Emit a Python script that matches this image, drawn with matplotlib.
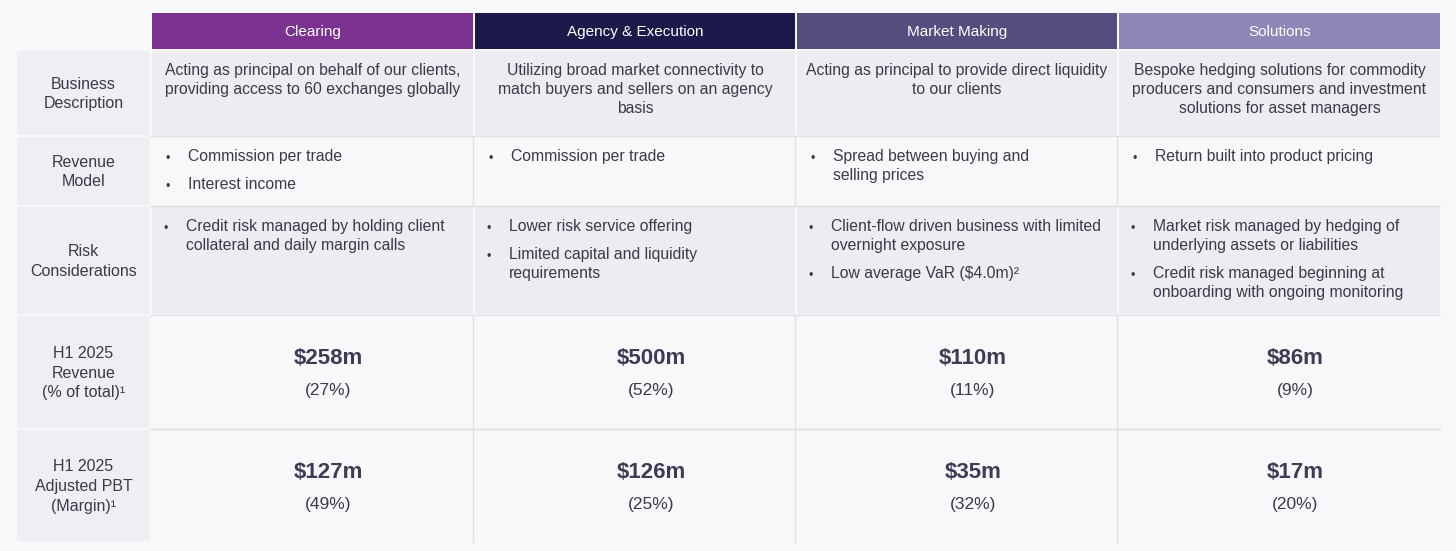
import matplotlib.pyplot as plt
from matplotlib.patches import Rectangle

plt.rcParams['font.family'] = ['Liberation Sans', 'DejaVu Sans']

# table content
segments = ['Clearing', 'Agency & Execution', 'Market Making', 'Solutions']
row_labels = ['Business\nDescription', 'Revenue\nModel', 'Risk\nConsiderations',
              'H1 2025\nRevenue\n(% of total)\u00b9', 'H1 2025\nAdjusted PBT\n(Margin)\u00b9']
descriptions = [
    'Acting as principal on behalf of our clients,\nproviding access to 60 exchanges globally',
    'Utilizing broad market connectivity to\nmatch buyers and sellers on an agency\nbasis',
    'Acting as principal to provide direct liquidity\nto our clients',
    'Bespoke hedging solutions for commodity\nproducers and consumers and investment\nsolutions for asset managers',
]
revenue_model = [
    ['Commission per trade', 'Interest income'],
    ['Commission per trade'],
    ['Spread between buying and\nselling prices'],
    ['Return built into product pricing'],
]
risk = [
    ['Credit risk managed by holding client\ncollateral and daily margin calls'],
    ['Lower risk service offering', 'Limited capital and liquidity\nrequirements'],
    ['Client-flow driven business with limited\novernight exposure', 'Low average VaR ($4.0m)\u00b2'],
    ['Market risk managed by hedging of\nunderlying assets or liabilities',
     'Credit risk managed beginning at\nonboarding with ongoing monitoring'],
]
revenue_m = [258, 500, 110, 86]
revenue_share = [27, 52, 11, 9]
pbt_m = [127, 126, 35, 17]
pbt_margin = [49, 25, 32, 20]

# styling / layout (pixel units)
header_colors = ['#7b3291', '#1d1a4b', '#544e7e', '#8e88b8']
BG = '#f8f8fa'
GREY = '#ececf1'
LIGHT = '#f8f8fb'
LABEL_BG = '#efeff3'
EDGE = '#dfdfe5'
TXT = '#3a3a48'
VAL = '#3d3b55'
col_edges = [16, 151, 474, 796, 1118, 1441]
row_edges = [12, 50, 136, 206, 315, 429, 542]
row_fill = [GREY, LIGHT, GREY, LIGHT, LIGHT]
LINE = 19
FS = 11.3

fig = plt.figure(figsize=(14.56, 5.51), dpi=100, facecolor=BG)
ax = fig.add_axes([0, 0, 1, 1])
ax.set_xlim(0, 1456)
ax.set_ylim(551, 0)
ax.axis('off')


def cell(x0, x1, y0, y1, fc):
    ax.add_patch(Rectangle((x0 + 1, y0 + 1), x1 - x0 - 2, y1 - y0 - 2,
                           facecolor=fc, edgecolor='none'))


def bullets(items, x0, y, dot_dx, text_dx):
    for item in items:
        n = item.count('\n') + 1
        ax.text(x0 + dot_dx, y + 10, '\u2022', fontsize=9, color=TXT, va='center', ha='center')
        ax.text(x0 + text_dx, y, item, fontsize=FS, color=TXT, va='top', linespacing=1.32)
        y += n * LINE + 9


# header
for j, name in enumerate(segments):
    x0, x1 = col_edges[j + 1], col_edges[j + 2]
    cell(x0, x1, row_edges[0], row_edges[1], header_colors[j])
    ax.text((x0 + x1) / 2, (row_edges[0] + row_edges[1]) / 2 + 1, name, color='white',
            fontsize=11, ha='center', va='center')

# row labels and body cells
for i, lab in enumerate(row_labels):
    y0, y1 = row_edges[i + 1], row_edges[i + 2]
    cell(col_edges[0], col_edges[1], y0, y1, LABEL_BG)
    ax.text((col_edges[0] + col_edges[1]) / 2, (y0 + y1) / 2 + 1, lab, fontsize=11.5, color=TXT,
            ha='center', va='center', linespacing=1.38)
    for j in range(4):
        x0, x1 = col_edges[j + 1], col_edges[j + 2]
        cell(x0, x1, y0, y1, row_fill[i])
    # thin grey rules around the light rows
    if row_fill[i] == LIGHT:
        ax.plot([col_edges[1], col_edges[-1] - 1], [y0, y0], color=EDGE, lw=1)
        if i < len(row_labels) - 1:
            ax.plot([col_edges[1], col_edges[-1] - 1], [y1, y1], color=EDGE, lw=1)
        for xe in col_edges[2:-1]:
            ax.plot([xe - 1, xe - 1], [y0, y1], color=EDGE, lw=1)

for j in range(4):
    x0, x1 = col_edges[j + 1], col_edges[j + 2]
    xc = (x0 + x1) / 2
    ax.text(xc, row_edges[1] + 13, descriptions[j], fontsize=FS, color=TXT,
            ha='center', va='top', linespacing=1.32)
    bullets(revenue_model[j], x0, row_edges[2] + 13, 17, 37)
    bullets(risk[j], x0, row_edges[3] + 13, 15, 35)
    ax.text(xc + 16, 358, f'${revenue_m[j]}m', fontsize=16, fontweight='bold', color=VAL,
            ha='center', va='center')
    ax.text(xc + 16, 391, f'({revenue_share[j]}%)', fontsize=12.5, color=TXT,
            ha='center', va='center')
    ax.text(xc + 16, 472, f'${pbt_m[j]}m', fontsize=16, fontweight='bold', color=VAL,
            ha='center', va='center')
    ax.text(xc + 16, 505, f'({pbt_margin[j]}%)', fontsize=12.5, color=TXT,
            ha='center', va='center')

fig.savefig('out.png', dpi=100, facecolor=BG)
